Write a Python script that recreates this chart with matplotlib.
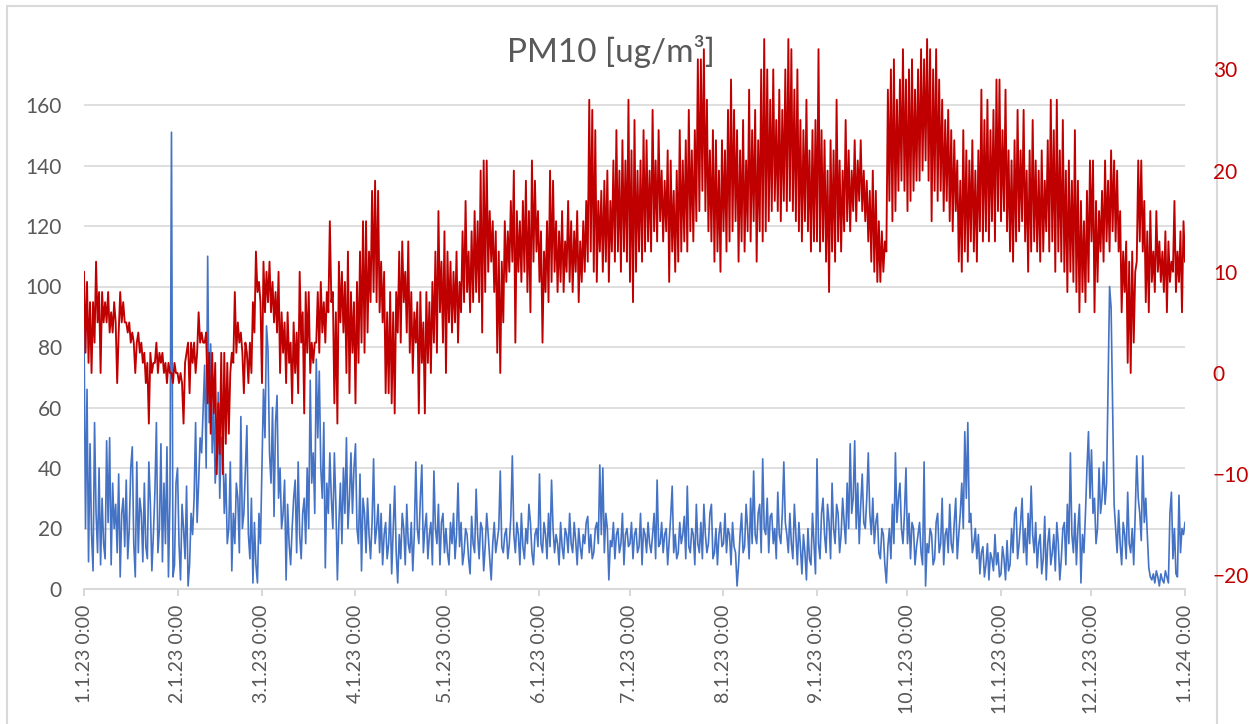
import numpy as np
import pandas as pd
import matplotlib
matplotlib.use("Agg")
import matplotlib.pyplot as plt
from matplotlib.patches import Rectangle

plt.rcParams['font.family'] = ['Lato', 'DejaVu Sans']

# Temperatura (desna os), vrijednosti u 12-satnom koraku, po mjesecima
temp_jan = [10,2, 9,1, 7,0, 7,3, 11,5, 8,0, 8,5, 7,5, 8,4, 6,4, 7,5, -1,4, 8,5, 7,5, 5,4, 5,3,
            4,3, 0,3, 4,2, 3,1, 2,-1, 1,-5, 2,0, 1,1, 3,0, 2,1, 2,0, 1,-1, 1,0, 0,-1, 1,0]
temp_feb = [0,-1, 0,-1, -5,1, 2,3, -2,3, 1,3, 0,2, 6,3, 4,3, 3,4, -3,2, -6,2, -4,1, -10,-3,
            -8,2, -10,2, -7,1, -6,0, 2,1, 8,2, 5,3, 4,2, -2,3, 2,-1, 3,0, 7,4, 12,8, 9,7]
temp_mar = [-1,11, 6,10, 7,11, 6,9, 5,8, 4,10, 0,6, 2,5, -1,6, 1,3, -3,5, 0,4, -2,10, 3,6,
            -4,8, 2,8, 0,3, 1,3, 3,8, 2,9, 4,7, 3,8, 6,15, 7,8, -3,6, -5,11, 5,10, 4,9,
            0,12, -2,8, 2,7]
temp_apr = [-3,9, 1,12, 3,15, 2,15, 4,12, 7,18, 8,19, 7,18, 6,11, 5,10, -2,6, -2,8, -3,6,
            -4,8, 4,12, 3,13, 7,10, 4,13, 2,8, 0,6, 3,7, -4,8, 1,5, -4,8, 1,7, 0,9, 3,12,
            2,16, 6,11, 3,14]
temp_may = [0,12, 5,11, 4,10, 5,12, 3,9, 6,14, 7,17, 8,12, 6,14, 7,16, 8,15, 7,20, 4,21,
            8,21, 10,16, 11,15, 8,14, 2,12, 0,11, 5,15, 9,14, 10,17, 11,20, 3,16, 10,15,
            9,17, 10,19, 8,16, 6,21, 11,19, 12,16]
temp_jun = [9,14, 3,12, 8,15, 7,20, 9,19, 10,15, 8,14, 9,16, 8,13, 10,17, 9,15, 8,14, 10,16,
            7,13, 9,15, 10,17, 11,27, 12,26, 10,24, 9,17, 12,18, 10,19, 11,20, 9,17, 12,21,
            11,24, 12,20, 10,23, 12,21, 11,27]
temp_jul = [9,22, 7,25, 10,20, 12,21, 11,24, 12,23, 13,20, 12,26, 14,21, 13,24, 15,20, 13,19,
            14,22, 9,21, 12,18, 10,20, 11,24, 12,21, 13,23, 12,26, 14,22, 13,24, 15,31, 16,31,
            18,32, 16,27, 14,22, 13,24, 11,23, 12,20, 10,23]
temp_aug = [14,22, 12,26, 13,29, 14,26, 15,24, 11,22, 13,25, 12,21, 14,28, 13,24, 15,26, 11,23,
            14,30, 13,33, 14,30, 15,27, 16,30, 17,25, 16,28, 15,26, 17,30, 16,33, 17,32, 16,28,
            15,30, 14,25, 13,24, 15,27, 14,22, 12,24, 13,25]
temp_sep = [13,32, 12,24, 13,23, 11,20, 8,23, 12,22, 11,27, 13,21, 12,20, 14,25, 15,22, 14,20,
            16,23, 15,21, 17,23, 16,20, 15,19, 13,18, 11,20, 10,18, 9,15, 9,14, 10,13, 12,28,
            17,30, 15,31, 16,27, 18,29, 19,32, 18,29]
temp_oct = [16,30, 17,31, 18,28, 19,30, 19,32, 20,31, 21,33, 19,32, 15,30, 18,32, 17,29, 18,27,
            16,25, 17,26, 15,24, 14,23, 16,21, 11,19, 10,24, 12,22, 11,21, 13,23, 12,20, 11,22,
            14,28, 13,25, 14,27, 13,24, 15,26, 13,29, 16,29]
temp_nov = [15,24, 16,28, 14,22, 12,21, 11,23, 13,26, 14,22, 15,26, 13,20, 10,22, 12,25, 13,21,
            12,20, 11,22, 12,19, 14,23, 12,27, 13,24, 10,27, 12,22, 11,25, 10,20, 8,21, 10,19,
            9,24, 8,19, 6,17, 8,15, 7,18, 9,21]
temp_dec = [13,21, 6,17, 9,16, 12,18, 11,21, 13,19, 12,22, 14,21, 13,20, 12,16, 6,12, 8,13,
            1,11, 0,12, 3,10, 11,21, 13,21, 12,17, 7,14, 6,16, 9,12, 8,16, 10,13, 9,12, 8,14,
            6,13, 9,11, 10,17, 8,12, 9,14, 6,15]
temp_end = [11]

# PM10 (lijeva os), vrijednosti u 12-satnom koraku, po mjesecima
pm_jan = [87,20, 66,9, 48,18, 6,55, 25,12, 40,8, 30,15, 10,49, 22,50, 8,35, 20,28, 12,38, 4,25,
          30,14, 36,10, 20,40, 47,15, 4,42, 12,30, 25,9, 35,14, 10,42, 28,6, 18,32, 55,12,
          20,48, 9,35, 15,47, 4,30, 151,4, 8,35]
pm_feb = [40,15, 3,28, 20,10, 34,1, 8,25, 18,30, 55,22, 35,50, 45,60, 74,40, 110,55, 81,45,
          60,35, 45,65, 30,50, 50,25, 38,15, 20,42, 6,25, 15,35, 30,12, 57,20, 25,40, 54,18,
          10,30, 2,22, 8,2, 25,15]
pm_mar = [40,66, 50,87, 79,45, 35,60, 24,55, 64,30, 40,20, 25,36, 3,28, 15,8, 20,30, 36,12,
          42,18, 10,25, 30,15, 40,20, 69,35, 45,25, 76,50, 72,40, 30,55, 7,35, 25,45, 30,20,
          45,28, 3,22, 35,15, 40,25, 50,20, 30,45, 25,40]
pm_apr = [48,20, 15,38, 6,30, 25,12, 30,18, 10,22, 43,15, 20,28, 12,25, 8,18, 22,10, 15,28,
          5,20, 34,12, 2,18, 10,25, 20,8, 28,15, 12,22, 6,18, 42,20, 15,30, 41,12, 20,25,
          10,18, 22,8, 39,20, 15,28, 8,22, 25,12]
pm_may = [20,12, 8,22, 15,25, 10,18, 35,14, 22,8, 12,20, 18,10, 5,24, 15,12, 33,18, 10,22,
          20,6, 14,25, 18,10, 3,15, 22,12, 16,20, 39,14, 12,18, 20,10, 15,24, 44,18, 12,22,
          18,8, 25,14, 10,20, 15,28, 22,12, 8,18, 20,14]
pm_jun = [38,15, 12,22, 18,10, 25,14, 36,20, 12,18, 15,8, 22,14, 10,20, 18,12, 25,15, 12,22,
          16,8, 20,14, 10,18, 15,22, 24,12, 18,10, 12,20, 22,15, 41,18, 40,12, 25,20, 3,16,
          14,22, 10,18, 20,12, 15,25, 8,18, 20,14]
pm_jul = [15,22, 10,18, 20,12, 14,25, 8,20, 18,12, 22,15, 12,18, 25,10, 36,14, 15,22, 12,18,
          20,8, 16,24, 34,12, 18,10, 12,22, 15,18, 24,10, 34,14, 12,20, 18,8, 28,15, 12,22,
          10,28, 18,12, 15,25, 28,10, 12,20, 8,18, 22,14]
pm_aug = [15,25, 12,20, 18,8, 22,14, 12,1, 8,18, 25,12, 14,28, 20,10, 30,15, 39,18, 15,25,
          28,12, 43,20, 18,30, 12,24, 25,15, 20,10, 32,18, 15,25, 42,22, 18,12, 25,15, 10,28,
          18,8, 22,14, 5,18, 12,3, 20,10, 8,25, 15,5]
pm_sep = [43,15, 10,25, 30,18, 12,28, 22,10, 35,20, 15,28, 25,12, 18,30, 22,15, 35,20, 48,25,
          30,49, 20,35, 15,28, 38,22, 20,30, 45,25, 18,30, 15,22, 25,12, 10,20, 18,8, 2,14,
          20,10, 28,15, 45,22, 30,35, 20,15, 25,40]
pm_oct = [15,25, 10,22, 20,8, 14,18, 22,12, 8,42, 1,15, 12,20, 18,8, 10,22, 25,12, 15,30,
          8,18, 20,12, 28,15, 12,22, 30,10, 18,25, 35,20, 52,30, 55,22, 25,12, 15,20, 10,18,
          5,12, 14,4, 8,15, 3,12, 10,6, 18,8, 12,4]
pm_nov = [5,14, 10,3, 16,6, 8,20, 12,25, 27,10, 15,22, 30,12, 20,8, 25,15, 34,18, 12,22,
          7,15, 18,5, 10,24, 3,15, 20,8, 12,18, 6,22, 15,3, 10,20, 22,8, 28,15, 45,18,
          12,25, 8,20, 28,2, 18,12, 25,40, 52,30]
pm_dec = [46,25, 30,15, 20,40, 25,30, 42,28, 35,67, 100,93, 60,28, 20,12, 26,15, 8,22, 18,10,
          32,15, 12,20, 8,25, 44,30, 25,16, 44,22, 30,18, 7,4, 3,5, 2,6, 4,1, 5,3, 2,6,
          4,2, 25,32, 10,20, 5,4, 31,12, 20,18]
pm_end = [22]

month_ticks = pd.date_range('2023-01-01', '2024-01-01', freq='MS')
tick_labels = [f"{d.month}.{d.day}.{d.strftime('%y')} 0:00" for d in month_ticks]

temp = np.array(temp_jan + temp_feb + temp_mar + temp_apr + temp_may + temp_jun + temp_jul
                + temp_aug + temp_sep + temp_oct + temp_nov + temp_dec + temp_end, dtype=float)
pm = np.array(pm_jan + pm_feb + pm_mar + pm_apr + pm_may + pm_jun + pm_jul
              + pm_aug + pm_sep + pm_oct + pm_nov + pm_dec + pm_end, dtype=float)
t = pd.date_range('2023-01-01', periods=len(pm), freq='12h')

W, H = 1256, 724
fig = plt.figure(figsize=(W / 100, H / 100), dpi=100)
# okvir grafikona (ispod svega)
fig.patches.append(Rectangle((7 / W, -0.02), 1210 / W, (H - 6) / H + 0.02,
                             transform=fig.transFigure, fill=False,
                             edgecolor='#D9D9D9', lw=1.5, zorder=-5))

ax = fig.add_axes([84 / W, (H - 589) / H, 1101 / W, 560 / H])
ax2 = ax.twinx()

ax.plot(t, pm, color='#4472C4', lw=1.2)
ax2.plot(t, temp, color='#C00000', lw=1.35)

ax.set_xlim(month_ticks[0], month_ticks[-1])
ax.set_ylim(0, 560 / 3.025)
ax2.set_ylim(-216 / 10.12, 344 / 10.12)
ax.set_yticks(np.arange(0, 161, 20))
ax2.set_yticks(np.arange(-20, 31, 10))
ax.set_xticks(month_ticks)
ax.set_xticklabels(tick_labels, rotation=90)

ax.grid(axis='y', color='#D9D9D9', lw=1.2)
ax.set_axisbelow(True)
for a in (ax, ax2):
    for s in ('top', 'left', 'right', 'bottom'):
        a.spines[s].set_visible(False)
ax.spines['bottom'].set_visible(True)
ax.spines['bottom'].set_color('#D9D9D9')
ax.spines['bottom'].set_linewidth(1.5)

ax.tick_params(axis='y', length=0, pad=16, labelsize=15, labelcolor='#595959')
ax.tick_params(axis='x', length=5, width=1.5, color='#D9D9D9', pad=6,
               labelsize=14, labelcolor='#595959')
ax2.tick_params(axis='y', length=0, pad=20, labelsize=15, labelcolor='#C00000')

fig.text(611 / W, (H - 62) / H, 'PM10 [ug/m³]', ha='center', va='baseline',
         fontsize=24, color='#595959')

fig.savefig('out.png', dpi=100)
